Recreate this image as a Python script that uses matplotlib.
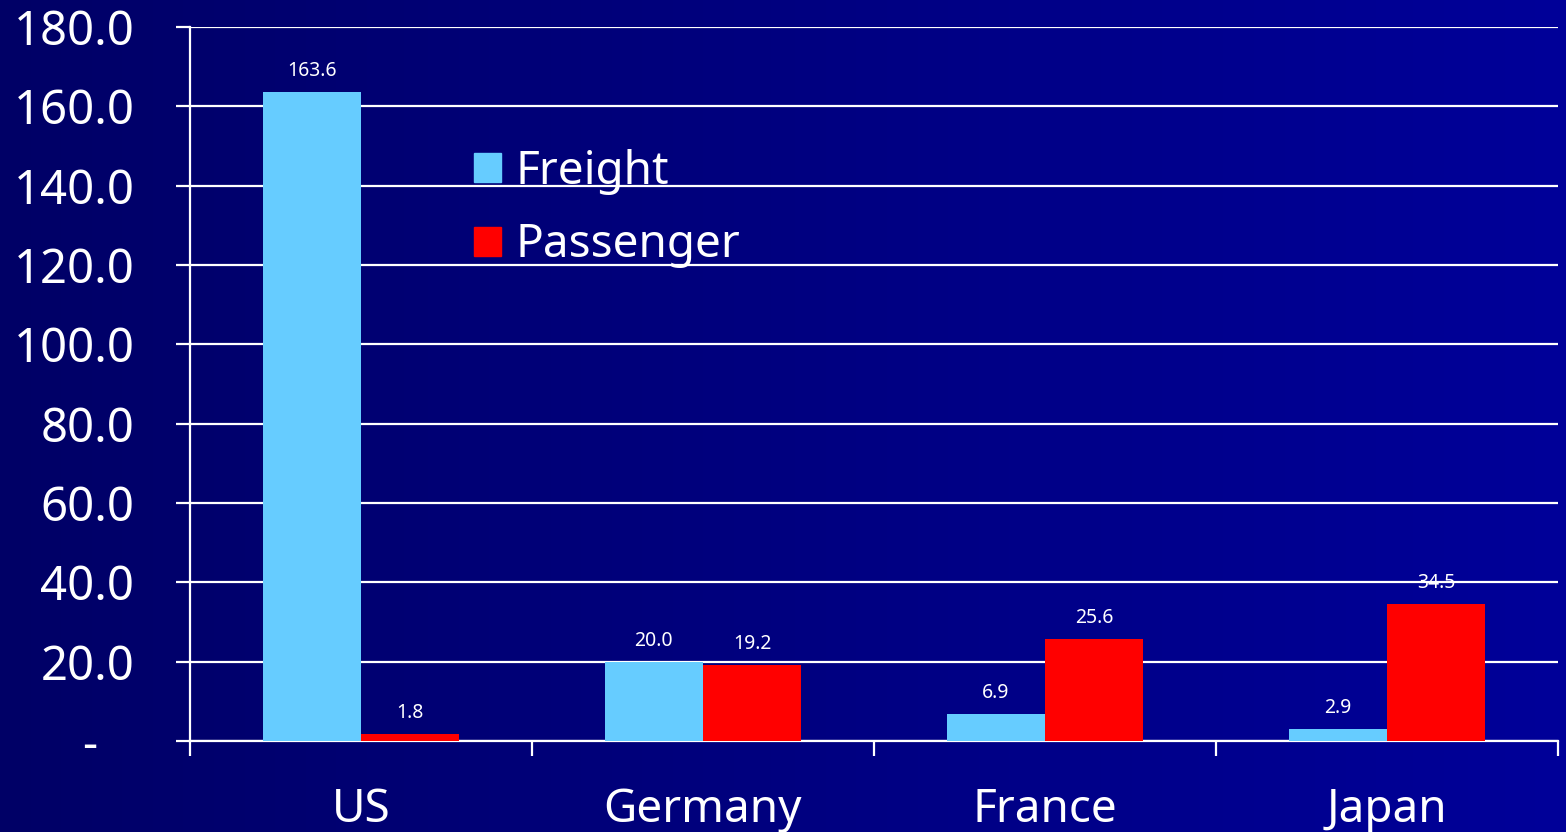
import numpy as np
import matplotlib.pyplot as plt
from matplotlib.patches import Patch

plt.rcParams['font.family'] = ['Noto Sans', 'DejaVu Sans']

# ----------------------------------------------------------------------------
# Data
# ----------------------------------------------------------------------------
countries = ["US", "Germany", "France", "Japan"]
freight   = [163.6, 20.0, 6.9, 2.9]
passenger = [1.8, 19.2, 25.6, 34.5]
y_ticks   = [0, 20, 40, 60, 80, 100, 120, 140, 160, 180]
y_labels  = ["-   "] + [f"{v:.1f}" for v in y_ticks[1:]]   # accounting-style zero

FREIGHT_C   = "#66CCFF"
PASSENGER_C = "#FF0000"

W, H, DPI = 1566, 832, 100
fig = plt.figure(figsize=(W / DPI, H / DPI), dpi=DPI)

# background gradient, dark navy left -> brighter blue right
bg = fig.add_axes([0, 0, 1, 1], zorder=-10)
grad = np.linspace(0, 1, 256)[None, :]
left_c = np.array([0, 0, 0x66]) / 255
right_c = np.array([0, 0, 0x99]) / 255
img = left_c[None, None, :] * (1 - grad[..., None]) + right_c[None, None, :] * grad[..., None]
bg.imshow(img, aspect="auto", extent=[0, 1, 0, 1])
bg.axis("off")

ax = fig.add_axes([190 / W, 1 - 741 / H, (1558 - 190) / W, (741 - 27) / H])
ax.set_facecolor("none")

x = np.arange(len(countries)) + 0.5
bw = 0.287
b1 = ax.bar(x - bw / 2, freight, bw, color=FREIGHT_C, zorder=3)
b2 = ax.bar(x + bw / 2, passenger, bw, color=PASSENGER_C, zorder=3)

for bars, vals in ((b1, freight), (b2, passenger)):
    for rect, v in zip(bars, vals):
        ax.annotate(f"{v:.1f}", (rect.get_x() + rect.get_width() / 2, v),
                    xytext=(0, 8), textcoords="offset points",
                    ha="center", va="bottom", color="white", fontsize=14, zorder=4)

ax.set_xlim(0, 4)
ax.set_ylim(0, 180)

ax.set_yticks(y_ticks)
ax.set_yticklabels(y_labels)
ax.yaxis.grid(True, color="white", linewidth=1.6, zorder=1)
ax.set_axisbelow(True)

ax.set_xticks(x)
ax.set_xticklabels(countries)
ax.set_xticks(np.arange(5), minor=True)
ax.tick_params(axis="x", which="major", length=0, pad=33, labelsize=33, colors="white")
ax.tick_params(axis="x", which="minor", length=11, width=1.6, direction="out", color="white")
ax.tick_params(axis="y", length=10, width=1.6, direction="out", color="white",
               labelsize=34, labelcolor="white", pad=30)

for s in ("top", "right"):
    ax.spines[s].set_visible(False)
for s in ("left", "bottom"):
    ax.spines[s].set_color("white")
    ax.spines[s].set_linewidth(1.6)

handles = [Patch(color=FREIGHT_C, label="Freight"),
           Patch(color=PASSENGER_C, label="Passenger")]
ax.legend(handles=handles, loc="upper left", bbox_to_anchor=(451 / W, 1 - 126 / H),
          bbox_transform=fig.transFigure, frameon=False, fontsize=33,
          handlelength=0.6, handleheight=0.6, handletextpad=0.3,
          labelspacing=0.6, borderpad=0, labelcolor="white")

fig.savefig("out.png", dpi=DPI)
